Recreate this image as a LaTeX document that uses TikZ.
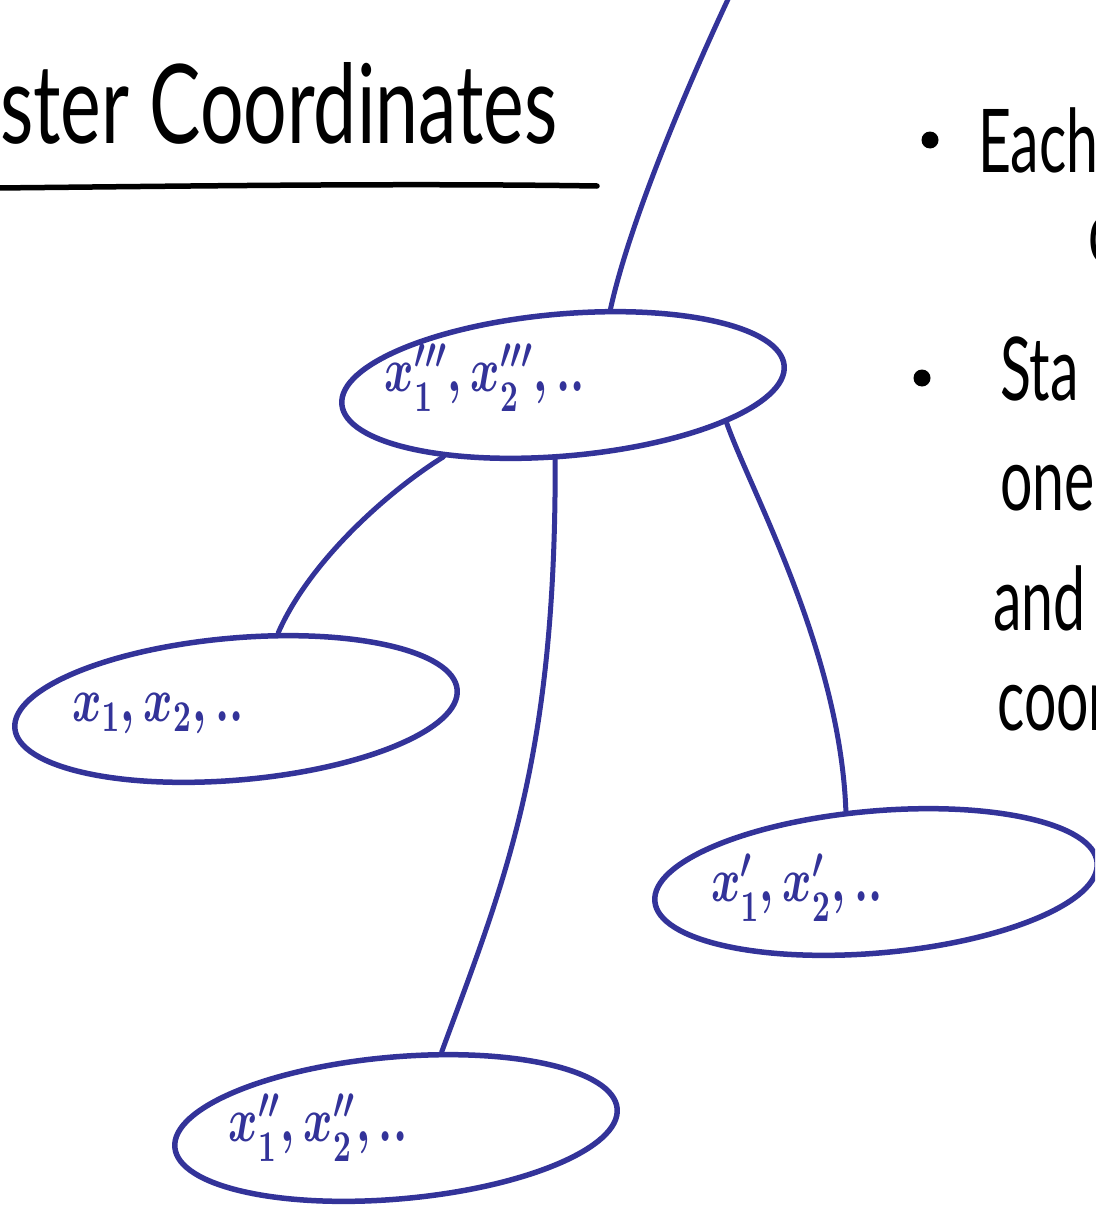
\documentclass[tikz,border=0pt]{standalone}
\usepackage{fontspec}
\setmainfont{Lato}
\usetikzlibrary{shapes.geometric}
\definecolor{ink}{RGB}{51,51,153}
\begin{document}
\begin{tikzpicture}[x=1pt,y=-1pt,
  blob/.style={draw=ink, line width=5.5pt, ellipse, inner sep=0pt, minimum width=444pt, minimum height=142pt, rotate=5},
  wire/.style={draw=ink, line width=5pt, line cap=round},
  lab/.style={text=ink, font=\Large\boldmath, xscale=3.1, yscale=4.4, inner sep=0pt},
  hand/.style={font=\fontsize{110}{116}\selectfont, anchor=base west, inner sep=0pt, xscale=0.7},
  side/.style={font=\fontsize{88}{96}\selectfont, anchor=base west, inner sep=0pt, xscale=0.65},
  dot/.style={circle, fill=black, inner sep=0pt, minimum size=17pt}]
\useasboundingbox (0,0) rectangle (1095,1207);
\clip (0,0) rectangle (1095,1207);
% title
\node[hand] (title) at (0,143) {ster Coordinates};
\draw[line width=5.5pt, line cap=round] (-5,188) .. controls (200,186) and (400,183) .. (597,186);
% right text
\node[dot] (b1) at (930,140) {};
\node[side] (t1) at (978,172) {Each};
\node[side] (t2) at (1088,262) {c};
\node[dot] (b2) at (922,378) {};
\node[side] (t3) at (1000,400) {Sta};
\node[side] (t4) at (1000,510) {one};
\node[side] (t5) at (993,630) {and};
\node[side] (t6) at (997,730) {coor};
% ellipses
\node[blob] (top) at (563,385) {};
\node[blob] (left) at (236,709) {};
\node[blob] (right) at (876,882) {};
\node[blob] (bot) at (396,1128) {};
% labels
\node[lab] (ltop) at (485,378) {$x_1''', x_2''', ..$};
\node[lab] (lleft) at (158,714) {$x_1, x_2, ..$};
\node[lab] (lright) at (797,888) {$x_1', x_2', ..$};
\node[lab] (lbot) at (318,1128) {$x_1'', x_2'', ..$};
% connectors
\coordinate (topend) at (730,-5);
\draw[wire] (top.53) .. controls (630,220) and (690,80) .. (topend);
\draw[wire] (top.206) .. controls (390,490) and (310,560) .. (left.56);
\draw[wire] (top.259) .. controls (556,760) and (505,880) .. (bot.54);
\draw[wire] (top.-18) .. controls (750,490) and (840,650) .. (right.108);
\end{tikzpicture}
\end{document}
